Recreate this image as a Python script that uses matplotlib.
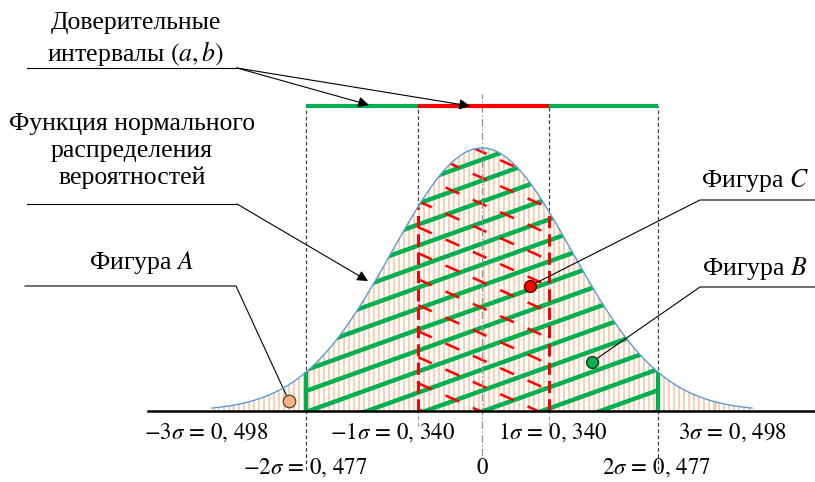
import numpy as np
import matplotlib
matplotlib.use("Agg")
import matplotlib.pyplot as plt
from matplotlib.patches import Polygon
from matplotlib.collections import LineCollection

plt.rcParams['font.family'] = ['Liberation Serif', 'DejaVu Serif']
plt.rcParams['mathtext.fontset'] = 'stix'

# ---------------- data ----------------
sigma_k = [-3, -2, -1, 0, 1, 2, 3]
sigma_pos = [-2.77, -1.96, -0.71, 0.0, 0.74, 1.96, 2.59]   # where each mark sits on the drawn axis
sigma_prob = ["0,\\,498", "0,\\,477", "0,\\,340", "", "0,\\,340", "0,\\,477", "0,\\,498"]
inner_interval = (-0.71, 0.74)   # ±1σ
outer_interval = (-1.96, 1.96)   # ±2σ
curve_range = (-3.0, 3.0)

def pdf(x):
    return np.exp(-np.asarray(x) ** 2 / 2.0)

curve_x = np.linspace(curve_range[0], curve_range[1], 400)
curve_y = pdf(curve_x)

# ---------------- layout helpers (pixel -> data) ----------------
PX0, SX, PY0, SY = 482.0, 90.0, 411.0, 263.0
def X(p): return (p - PX0) / SX
def Y(p): return (PY0 - p) / SY

GREEN = '#00B050'
RED = '#FF0000'
PEACH = '#F8CBAD'
BLUE = '#5B9BD5'

fig = plt.figure(figsize=(8.15, 4.82), dpi=100)
ax = fig.add_axes([0, 0, 1, 1])
ax.set_xlim(X(0), X(815))
ax.set_ylim(Y(482), Y(0))
ax.axis('off')

# ---- vertical peach stripes under the whole curve ----
xs = np.arange(curve_range[0] + 0.02, curve_range[1], 5.0 / SX)
segs = [[(x, 0), (x, pdf(x))] for x in xs]
ax.add_collection(LineCollection(segs, colors=PEACH, linewidths=1.3, zorder=1))

def region(a, b):
    xx = np.linspace(a, b, 200)
    pts = [(a, 0)] + list(zip(xx, pdf(xx))) + [(b, 0)]
    poly = Polygon(pts, closed=True, facecolor='none', edgecolor='none')
    ax.add_patch(poly)
    return poly

# ---- green diagonal hatching between ±2σ ----
clip_g = region(*outer_interval)
slope_g = 0.36 * SX / SY
step_g = 21.0 / SY
gsegs = []
for c in np.arange(-1.2, 1.6, step_g):
    x0, x1 = outer_interval
    gsegs.append([(x0, c + slope_g * x0), (x1, c + slope_g * x1)])
lc_g = LineCollection(gsegs, colors=GREEN, linewidths=3.2, zorder=2, capstyle='butt')
ax.add_collection(lc_g)
lc_g.set_clip_path(clip_g)

# ---- red dashed diagonal hatching between ±1σ ----
clip_r = region(*inner_interval)
slope_r = -0.45 * SX / SY
step_r = 26.0 / SY
rsegs = []
for c in np.arange(-0.3, 1.6, step_r):
    x0, x1 = inner_interval
    rsegs.append([(x0, c + slope_r * x0), (x1, c + slope_r * x1)])
lc_r = LineCollection(rsegs, colors=RED, linewidths=1.8, zorder=3,
                      linestyles=[(0, (6, 6))])
ax.add_collection(lc_r)
lc_r.set_clip_path(clip_r)

# ---- boundaries ----
for xb in outer_interval:
    ax.plot([xb, xb], [0, pdf(xb)], color=GREEN, lw=3.0, zorder=4, solid_capstyle='butt')
for xb in inner_interval:
    ax.plot([xb, xb], [0, pdf(xb)], color=RED, lw=2.2, zorder=4, linestyle=(0, (4, 2)))

# faint ticks at ±3σ
for xb in (sigma_pos[0], sigma_pos[-1]):
    ax.plot([xb, xb], [0, pdf(xb)], color='#C8C8C8', lw=1.0, zorder=1.5)

# dashed guide lines
for xb in outer_interval:
    ax.plot([xb, xb], [Y(470), Y(106)], color='#404040', lw=0.9, linestyle=(0, (3, 2)), zorder=3.5)
for xb in inner_interval:
    ax.plot([xb, xb], [pdf(xb), Y(106)], color='#404040', lw=0.9, linestyle=(0, (3, 2)), zorder=3.5)
    ax.plot([xb, xb], [Y(426), 0], color='#A0A0A0', lw=0.9, linestyle=(0, (3, 2)), zorder=3.5)
ax.plot([0, 0], [Y(456), Y(94)], color='#909090', lw=0.9, linestyle=(0, (6, 2, 1, 2)), zorder=3.5)

# top interval bar
ax.plot([outer_interval[0], inner_interval[0]], [Y(106)] * 2, color=GREEN, lw=3.0, solid_capstyle='butt', zorder=5)
ax.plot([inner_interval[0], inner_interval[1]], [Y(106)] * 2, color=RED, lw=3.0, solid_capstyle='butt', zorder=5)
ax.plot([inner_interval[1], outer_interval[1]], [Y(106)] * 2, color=GREEN, lw=3.0, solid_capstyle='butt', zorder=5)

# baseline and curve
ax.plot([X(148), X(815)], [0, 0], color='black', lw=1.8, zorder=6)
ax.plot(curve_x, curve_y, color=BLUE, lw=1.0, zorder=6)

# ---- bottom labels ----
label_px = [206, 305, 393, 482, 553, 656, 732]
label_row = [433, 468, 433, 468, 433, 468, 433]
for k, p, lx, ly in zip(sigma_k, sigma_prob, label_px, label_row):
    if k == 0:
        s = r"$0$"
    else:
        s = r"$%s\sigma\, =\, %s$" % ((str(k) if k > 0 else r"-%d" % (-k)), p)
    ax.text(X(lx), Y(ly), s, ha='center', va='center', fontsize=16.5, zorder=7)

# ---- annotations ----
FS = 18.5
ak = dict(color='black', lw=0.8)
arrow = dict(arrowstyle='-|>', color='black', lw=0.8, mutation_scale=16, shrinkA=0, shrinkB=0)

ax.text(X(136), Y(40), "Доверительные\nинтервалы $(a,b)$", ha='center', va='center',
        fontsize=FS, linespacing=1.2)
ax.plot([X(27), X(237)], [Y(68)] * 2, **ak)
ax.annotate('', xy=(X(369), Y(105)), xytext=(X(237), Y(68)), arrowprops=arrow, zorder=8)
ax.annotate('', xy=(X(470), Y(106)), xytext=(X(237), Y(68)), arrowprops=arrow, zorder=8)

ax.text(X(132), Y(151), "Функция нормального\nраспределения\nвероятностей", ha='center', va='center',
        fontsize=FS, linespacing=1.25)
ax.plot([X(27), X(237)], [Y(204)] * 2, **ak)
ax.annotate('', xy=(X(368), Y(281)), xytext=(X(237), Y(204)), arrowprops=arrow, zorder=8)

ax.text(X(141), Y(263), "Фигура $A$", ha='center', va='center', fontsize=FS)
ax.plot([X(25), X(236), X(289)], [Y(286), Y(286), Y(401)], **ak)
ax.plot(X(289), Y(401), 'o', ms=9, mfc='#F4B183', mec='#6B4A30', mew=1.0, zorder=9)

ax.text(X(755), Y(181), "Фигура $C$", ha='center', va='center', fontsize=FS)
ax.plot([X(815), X(700), X(530)], [Y(200), Y(200), Y(286)], **ak, zorder=8)
ax.plot(X(530), Y(286), 'o', ms=8.5, mfc=RED, mec='#5a0000', mew=1.0, zorder=9)

ax.text(X(755), Y(268), "Фигура $B$", ha='center', va='center', fontsize=FS)
ax.plot([X(815), X(700), X(592)], [Y(287), Y(287), Y(362)], **ak, zorder=8)
ax.plot(X(592), Y(362), 'o', ms=8.5, mfc=GREEN, mec='#1a3a1a', mew=1.0, zorder=9)

fig.savefig('out.png', dpi=100)
